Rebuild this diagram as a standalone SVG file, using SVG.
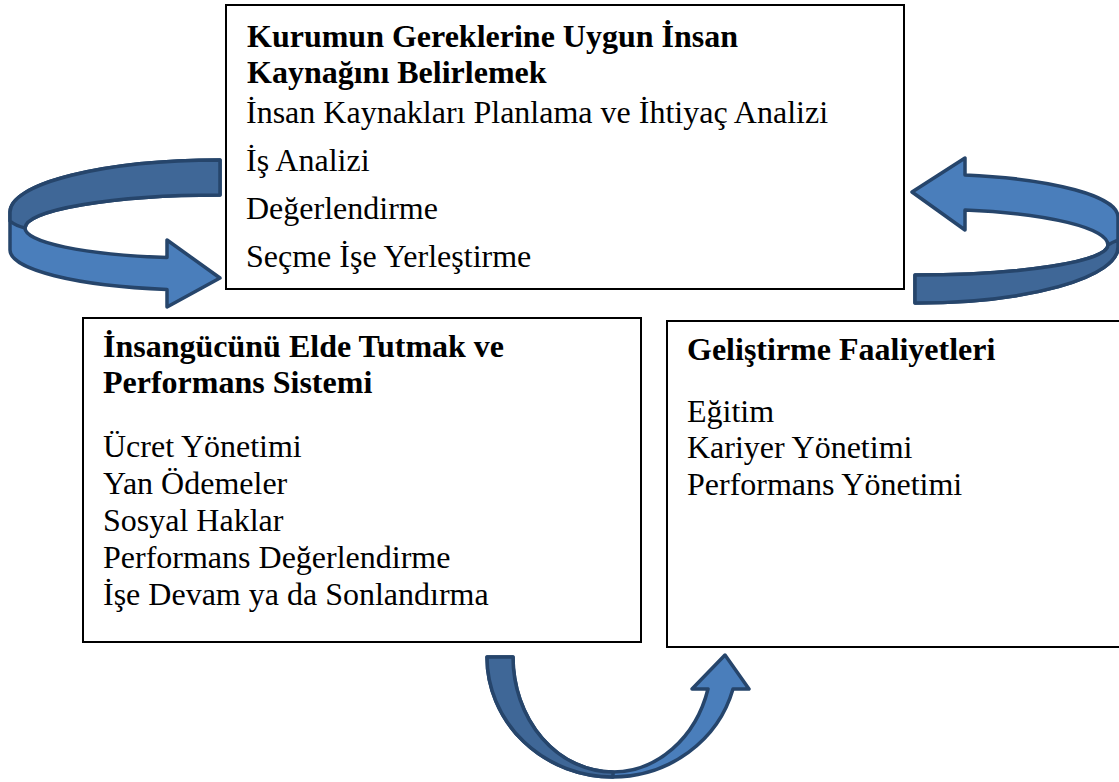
<svg xmlns="http://www.w3.org/2000/svg" width="1119" height="782" viewBox="0 0 1119 782">
<style>
.box{fill:#fff;stroke:#000;stroke-width:2}
.h{font-family:"Liberation Serif","Times New Roman",serif;font-size:32px;font-weight:bold;fill:#000}
.t{font-family:"Times New Roman","Liberation Serif",Tinos,"DejaVu Serif",serif;font-size:32px;font-weight:normal;font-style:normal;fill:#000}
.light{fill:#4A7EBB;stroke:#26456B;stroke-width:3.5;stroke-linejoin:round}
.dark{fill:#3F6797;stroke:#26456B;stroke-width:3.5;stroke-linejoin:round}
</style>
<rect width="1119" height="782" fill="#fff"/>
<g id="connectors">
  <g id="arrow-left">
    <path class="light" d="M220,160 A210,52 0 0 0 10,212 L10,250 A190,40 0 0 0 167,289.4 L167,307 L220,278 L167,240 L167,257.5 A175,30 0 0 1 25,228 A195,33 0 0 1 220,195 Z"/>
    <path class="dark" d="M220,160 A210,52 0 0 0 10,212 L10,221 Q16,226 25,228 A195,33 0 0 1 220,195 Z"/>
  </g>
  <g id="arrow-right">
    <path class="light" d="M912,192 L965,158 L965,175 A188,42.7 0 0 1 1118,217 L1118,247 A203,56 0 0 1 915,303 L915,275 A193,30 0 0 0 1108,245 A178,35.8 0 0 0 965,210 L965,230 Z"/>
    <path class="dark" d="M1108,245 Q1113,242 1118,240 L1118,247 A203,56 0 0 1 915,303 L915,275 A193,30 0 0 0 1108,245 Z"/>
  </g>
  <g id="arrow-bottom">
    <path class="light" d="M487,657 L513,657 A100,115 0 0 0 613,772 A99,115 0 0 0 708,689 L692,689 L725,655 L749,689 L733,689 A125,120 0 0 1 613,777 A126,120 0 0 1 487,657 Z"/>
    <path class="dark" d="M487,657 L513,657 A100,115 0 0 0 613,772 L613,777 A126,120 0 0 1 487,657 Z"/>
  </g>
</g>
<g id="node-top">
  <rect class="box" x="226" y="5" width="678" height="284"/>
  <text class="h" x="247" y="47">Kurumun Gereklerine Uygun İnsan</text>
  <text class="h" x="247" y="83">Kaynağını Belirlemek</text>
  <text class="t" x="246" y="123">İnsan Kaynakları Planlama ve İhtiyaç Analizi</text>
  <text class="t" x="246" y="171">İş Analizi</text>
  <text class="t" x="246" y="219">Değerlendirme</text>
  <text class="t" x="246" y="267">Seçme İşe Yerleştirme</text>
</g>
<g id="node-left">
  <rect class="box" x="83" y="318" width="558" height="324"/>
  <text class="h" x="103" y="357">İnsangücünü Elde Tutmak ve</text>
  <text class="h" x="103" y="393">Performans Sistemi</text>
  <text class="t" x="103" y="457">Ücret Yönetimi</text>
  <text class="t" x="103" y="494">Yan Ödemeler</text>
  <text class="t" x="103" y="531">Sosyal Haklar</text>
  <text class="t" x="103" y="568">Performans Değerlendirme</text>
  <text class="t" x="103" y="605">İşe Devam ya da Sonlandırma</text>
</g>
<g id="node-right">
  <rect class="box" x="667" y="321" width="460" height="326"/>
  <text class="h" x="687" y="360">Geliştirme Faaliyetleri</text>
  <text class="t" x="687" y="422">Eğitim</text>
  <text class="t" x="687" y="458">Kariyer Yönetimi</text>
  <text class="t" x="687" y="495">Performans Yönetimi</text>
</g>
</svg>
